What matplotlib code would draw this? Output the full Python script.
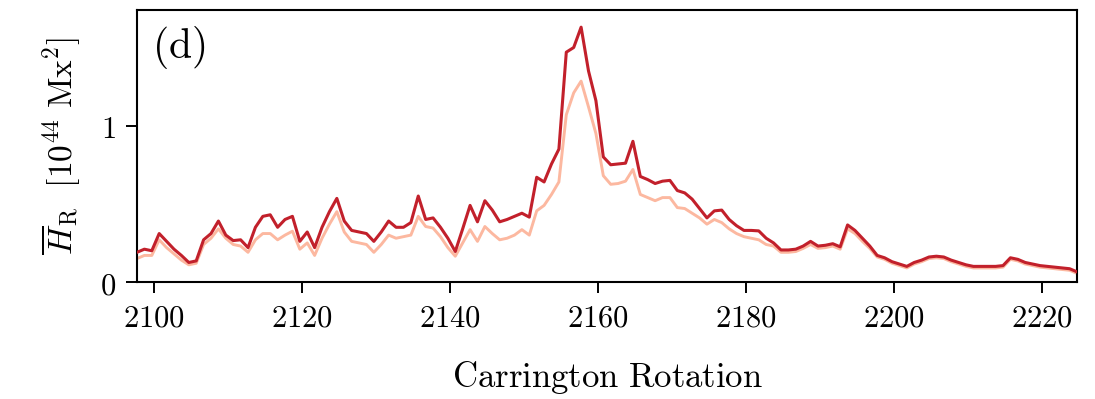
import numpy as np
import matplotlib
matplotlib.use("Agg")
import matplotlib.pyplot as plt
from matplotlib.ticker import FuncFormatter, FixedLocator

plt.rcParams['mathtext.fontset'] = 'cm'
plt.rcParams['font.family'] = ['DejaVu Serif']

# Carrington rotation (first point of the series) and values [1e44 Mx^2]
cr_start = 2097.75
h_total = [
    0.19, 0.21, 0.20, 0.31, 0.26, 0.21, 0.17, 0.125, 0.135, 0.27,   # 2097-2106
    0.31, 0.39, 0.30, 0.265, 0.27, 0.22, 0.35, 0.42, 0.43, 0.35,     # 2107-2116
    0.40, 0.42, 0.26, 0.32, 0.22, 0.35, 0.45, 0.535, 0.39, 0.33,     # 2117-2126
    0.32, 0.31, 0.26, 0.32, 0.39, 0.35, 0.35, 0.38, 0.55, 0.40,      # 2127-2136
    0.41, 0.35, 0.28, 0.195, 0.34, 0.49, 0.385, 0.52, 0.46, 0.385,   # 2137-2146
    0.40, 0.42, 0.44, 0.415, 0.67, 0.64, 0.755, 0.85, 1.47, 1.50,    # 2147-2156
    1.63, 1.35, 1.16, 0.80, 0.75, 0.755, 0.76, 0.90, 0.675, 0.655,   # 2157-2166
    0.63, 0.645, 0.65, 0.585, 0.57, 0.53, 0.47, 0.41, 0.455, 0.46,   # 2167-2176
    0.40, 0.36, 0.33, 0.33, 0.327, 0.28, 0.25, 0.205, 0.205, 0.21,   # 2177-2186
    0.23, 0.26, 0.23, 0.235, 0.245, 0.225, 0.365, 0.33, 0.28, 0.23,  # 2187-2196
    0.17, 0.155, 0.13, 0.115, 0.10, 0.125, 0.14, 0.16, 0.165, 0.16,  # 2197-2206
    0.14, 0.125, 0.11, 0.10, 0.10, 0.10, 0.10, 0.105, 0.155, 0.145,  # 2207-2216
    0.125, 0.115, 0.105, 0.10, 0.095, 0.09, 0.085, 0.065,            # 2217-2224
]
h_part = [
    0.15, 0.17, 0.17, 0.27, 0.22, 0.18, 0.14, 0.11, 0.12, 0.24,
    0.28, 0.34, 0.28, 0.24, 0.23, 0.19, 0.27, 0.31, 0.31, 0.27,
    0.30, 0.325, 0.21, 0.25, 0.17, 0.28, 0.37, 0.45, 0.32, 0.26,
    0.25, 0.24, 0.19, 0.24, 0.30, 0.28, 0.29, 0.30, 0.42, 0.355,
    0.345, 0.29, 0.22, 0.165, 0.25, 0.335, 0.26, 0.355, 0.31, 0.27,
    0.28, 0.30, 0.335, 0.30, 0.455, 0.49, 0.56, 0.64, 1.07, 1.21,
    1.285, 1.12, 0.95, 0.68, 0.625, 0.63, 0.645, 0.72, 0.56, 0.54,
    0.52, 0.54, 0.54, 0.476, 0.47, 0.44, 0.41, 0.37, 0.40, 0.38,
    0.34, 0.31, 0.29, 0.28, 0.27, 0.24, 0.23, 0.19, 0.19, 0.195,
    0.215, 0.24, 0.215, 0.22, 0.23, 0.21, 0.34, 0.31, 0.26, 0.215,
    0.16, 0.145, 0.12, 0.105, 0.09, 0.115, 0.13, 0.15, 0.155, 0.15,
    0.13, 0.115, 0.10, 0.09, 0.09, 0.09, 0.09, 0.095, 0.145, 0.135,
    0.115, 0.105, 0.095, 0.09, 0.085, 0.08, 0.075, 0.055,
]
xticks = [2100, 2120, 2140, 2160, 2180, 2200, 2220]
yticks = [0, 1]

cr = cr_start + np.arange(len(h_total))

fig = plt.figure(figsize=(10.95, 3.99), dpi=100)
ax = fig.add_axes([0.1251, 0.2932, 0.8585, 0.6818])

ax.plot(cr, h_part, color='#fcb8a0', lw=2.1, zorder=2)
ax.plot(cr, h_total, color='#c2202b', lw=2.2, zorder=3)

ax.set_xlim(cr[0], cr[-1])
ax.set_ylim(0, 1.74)
ax.xaxis.set_major_locator(FixedLocator(xticks))
ax.yaxis.set_major_locator(FixedLocator(yticks))
fmt = FuncFormatter(lambda v, p: r'$%d$' % int(round(v)))
ax.xaxis.set_major_formatter(fmt)
ax.yaxis.set_major_formatter(fmt)
ax.tick_params(direction='out', length=8, width=1.4, labelsize=22, pad=7)
for s in ax.spines.values():
    s.set_linewidth(1.5)

ax.set_xlabel(r'$\mathrm{Carrington\ Rotation}$', fontsize=25, labelpad=18)
ax.set_ylabel(r'$\overline{H}_{\mathrm{R}}\ \ [10^{44}\ \mathrm{Mx}^2]$', fontsize=24, labelpad=12)
ax.text(0.016, 0.95, r'$\mathrm{(d)}$', transform=ax.transAxes, fontsize=30,
        va='top', ha='left')

fig.savefig('out.png', dpi=100)
